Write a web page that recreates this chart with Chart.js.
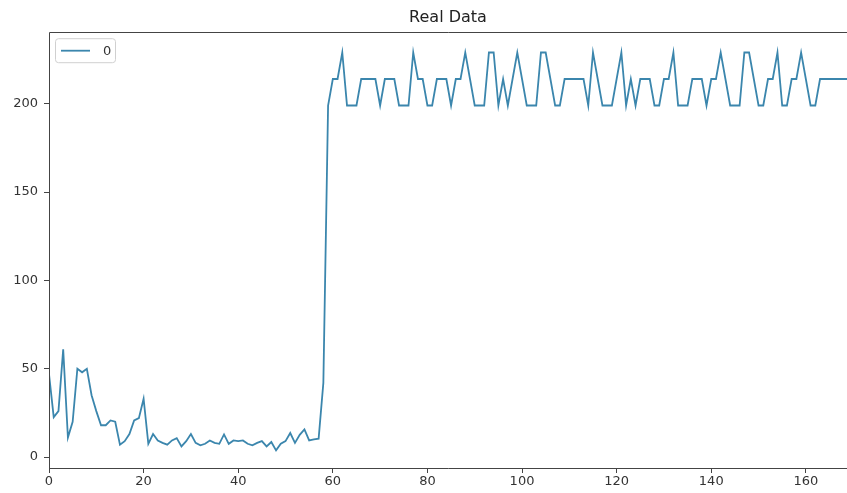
<!DOCTYPE html>
<html lang="en">
  <head>
    <meta charset="UTF-8" />
    <title>Real Data</title>
    <script src="https://cdn.jsdelivr.net/npm/chart.js"></script>
    <style>
      * {
        margin: 0;
        padding: 0;
      }
      body {
        background: #fff;
      }
    </style>
  </head>
  <body>
    <canvas id="chart" width="847" height="493"></canvas>

    <script>
      /*====  DATA ============================ */
      var chartTitle = 'Real Data';
      var seriesName = '0';
      var xTicks = [0, 20, 40, 60, 80, 100, 120, 140, 160];
      var yTicks = [0, 50, 100, 150, 200];

      // values, one per step (0..169)
      var realData = [
        47, 22.6, 26, 61, 11, 20, 50, 48, 50, 35,
        26, 18, 18, 20.7, 20, 7, 9, 13, 20.7, 22,
        33, 7.5, 13, 9.4, 8, 7, 9.4, 10.7, 6, 9,
        13, 8, 6.6, 7.5, 9.4, 8, 7.5, 12.8, 7.5, 9.4,
        9, 9.4, 7.5, 6.6, 8, 9, 6, 8.5, 3.8, 7.5,
        9, 13.6, 8, 12.6, 15.7, 9.4, 10, 10.4, 42, 199,
        214, 214, 229, 199, 199, 199, 214, 214, 214, 214,
        199, 214, 214, 214, 199, 199, 199, 229, 214, 214,
        199, 199, 214, 214, 214, 199, 214, 214, 229, 214,
        199, 199, 199, 229, 229, 199, 214, 199, 214, 229,
        214, 199, 199, 199, 229, 229, 214, 199, 199, 214,
        214, 214, 214, 214, 199, 229, 214, 199, 199, 199,
        214, 229, 199, 214, 199, 214, 214, 214, 199, 199,
        214, 214, 229, 199, 199, 199, 214, 214, 214, 199,
        214, 214, 229, 214, 199, 199, 199, 229, 229, 214,
        199, 199, 214, 214, 229, 199, 199, 214, 214, 229,
        214, 199, 199, 214, 214, 214, 214, 214, 214, 214
      ];

      var lineColor = '#3b86ad';
      var font = 'DejaVu Sans';

      /*====  PLUGINS ============================ */
      // spines: left, top, bottom (the right one is cut off in the picture)
      var frame = {
        id: 'frame',
        afterDatasetsDraw: function (chart) {
          var a = chart.chartArea;
          var c = chart.ctx;
          var l = Math.round(a.left) + 0.5;
          var t = Math.round(a.top) + 0.5;
          var b = Math.round(a.bottom) + 0.5;
          c.save();
          c.strokeStyle = '#444';
          c.lineWidth = 1;
          c.beginPath();
          c.moveTo(chart.width, t);
          c.lineTo(l, t);
          c.lineTo(l, b);
          c.lineTo(chart.width, b);
          c.stroke();
          c.restore();
        }
      };

      // legend in the upper left corner
      var cornerLegend = {
        id: 'cornerLegend',
        afterDraw: function (chart) {
          var c = chart.ctx;
          var x = chart.chartArea.left + 6;
          var y = chart.chartArea.top + 6;
          c.save();
          c.fillStyle = 'rgba(255,255,255,0.8)';
          c.strokeStyle = '#d0d0d0';
          c.lineWidth = 1;
          c.beginPath();
          c.roundRect(x + 0.5, y + 0.5, 60, 24, 3);
          c.fill();
          c.stroke();
          c.strokeStyle = lineColor;
          c.lineWidth = 1.8;
          c.beginPath();
          c.moveTo(x + 6, y + 12.5);
          c.lineTo(x + 35, y + 12.5);
          c.stroke();
          c.fillStyle = '#333';
          c.font = '13px "' + font + '"';
          c.textBaseline = 'middle';
          c.fillText(chart.data.datasets[0].label, x + 48, y + 13);
          c.restore();
        }
      };

      /*====  CHART ============================ */
      var ctx = document.getElementById('chart').getContext('2d');
      var myChart = new Chart(ctx, {
        type: 'line',
        data: {
          datasets: [
            {
              label: seriesName,
              data: realData.map(function (v, i) {
                return { x: i, y: v };
              }),
              borderColor: lineColor,
              borderWidth: 1.8,
              pointRadius: 0,
              tension: 0,
              fill: false
            }
          ]
        },
        options: {
          responsive: false,
          animation: false,
          devicePixelRatio: 1,
          layout: {
            padding: 0
          },
          plugins: {
            legend: { display: false },
            tooltip: { enabled: false },
            title: {
              display: true,
              text: chartTitle,
              fullSize: false,
              color: '#222',
              font: { family: font, size: 16, weight: 'normal' },
              padding: { top: 8, bottom: 5 }
            }
          },
          scales: {
            x: {
              type: 'linear',
              min: 0,
              max: 168.7,
              border: { display: false },
              grid: {
                drawOnChartArea: false,
                tickLength: 5,
                tickColor: '#444'
              },
              ticks: {
                color: '#333',
                padding: 1,
                maxRotation: 0,
                font: { family: font, size: 13 }
              },
              afterBuildTicks: function (scale) {
                scale.ticks = xTicks.map(function (v) {
                  return { value: v };
                });
              },
              afterFit: function (scale) {
                scale.height = 25;
              }
            },
            y: {
              min: -6.2,
              max: 240.5,
              border: { display: false },
              grid: {
                drawOnChartArea: false,
                tickLength: 5,
                tickColor: '#444'
              },
              ticks: {
                color: '#333',
                padding: 6,
                font: { family: font, size: 13 }
              },
              afterBuildTicks: function (scale) {
                scale.ticks = yTicks.map(function (v) {
                  return { value: v };
                });
              },
              afterFit: function (scale) {
                scale.width = 49;
              }
            }
          }
        },
        plugins: [frame, cornerLegend]
      });
    </script>
  </body>
</html>
